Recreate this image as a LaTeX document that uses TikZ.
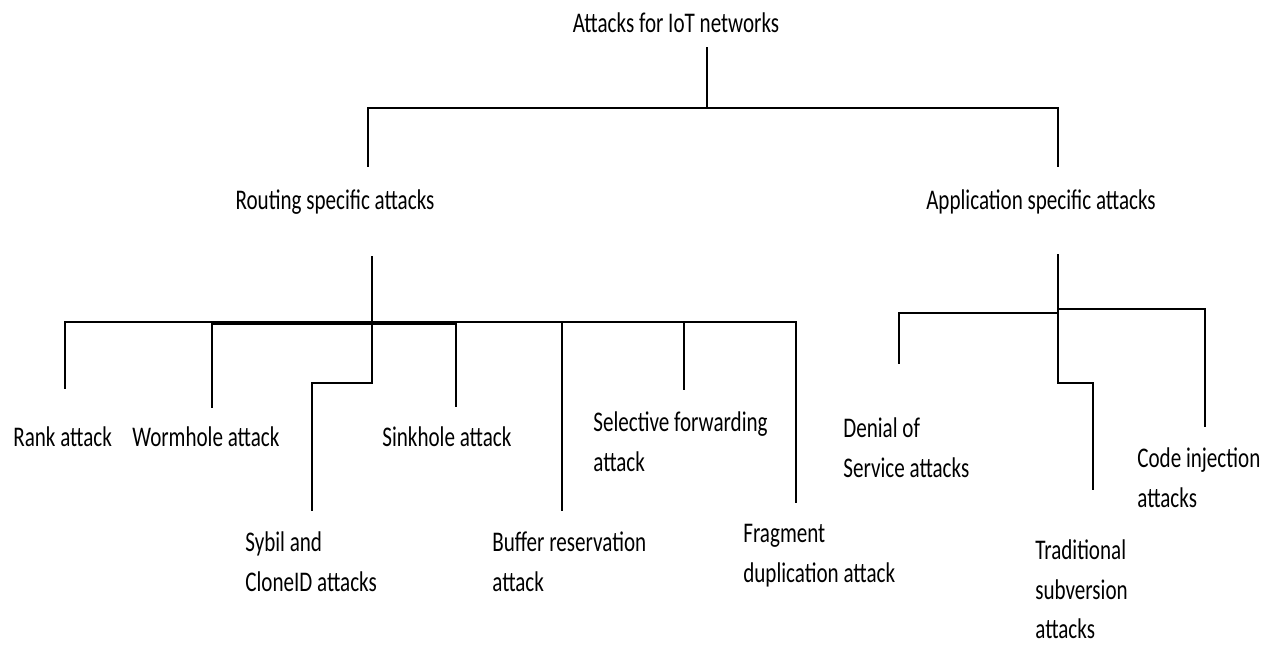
\documentclass[tikz,border=0pt]{standalone}
\usepackage{fontspec}
\setmainfont{Carlito}
\begin{document}
\begin{tikzpicture}[x=0.02cm,y=-0.02cm,
	lbl/.style={inner sep=0pt, yscale=1.35, align=left, font=\fontsize{12}{16.8}\selectfont},
	tree/.style={line width=1.1pt, line cap=rect}]
				\useasboundingbox (0,0) rectangle (1282,646);
				% labels
				\node[lbl, anchor=base] (iot) at (676,32) {Attacks for IoT networks};
				\node[lbl, anchor=base] (routing) at (335,209) {Routing specific attacks};
				\node[lbl, anchor=base] (appl) at (1041,209) {Application specific attacks};
				\node[lbl, anchor=base west] (rank) at (13,446) {Rank attack};
				\node[lbl, anchor=base west] (worm) at (132,446) {Wormhole attack};
				\node[lbl, anchor=base west] (sink) at (382,446) {Sinkhole attack};
				\node[lbl, anchor=north west] (sel) at (593,411) {Selective forwarding\\attack};
				\node[lbl, anchor=north west] (sybil) at (245,531) {Sybil and\\CloneID attacks};
				\node[lbl, anchor=north west] (buff) at (492,531) {Buffer reservation\\attack};
				\node[lbl, anchor=north west] (frag) at (743,524) {Fragment\\duplication attack};
				\node[lbl, anchor=north west] (dos) at (843,417) {Denial of\\Service attacks};
				\node[lbl, anchor=north west] (code) at (1137,447) {Code injection\\attacks};
				\node[lbl, anchor=north west] (trad) at (1035,539) {Traditional\\subversion\\attacks};

				% line ends
				\coordinate (iot-b) at (707,48);
				\coordinate (iot-j) at (707,108);
				\coordinate (routing-t) at (368,166);
				\coordinate (appl-t) at (1058,166);
				\coordinate (routing-b) at (372,257);
				\coordinate (routing-j) at (372,322);
				\coordinate (routing-k) at (372,383);
				\coordinate (rank-t) at (65,388);
				\coordinate (worm-t) at (212,407);
				\coordinate (sybil-t) at (312,510);
				\coordinate (sink-t) at (456,406);
				\coordinate (buff-t) at (562,510);
				\coordinate (sel-t) at (684,389);
				\coordinate (frag-t) at (796,502);
				\coordinate (appl-b) at (1058,255);
				\coordinate (appl-j) at (1058,313);
				\coordinate (appl-i) at (1058,309);
				\coordinate (appl-k) at (1058,383);
				\coordinate (dos-t) at (899,363);
				\coordinate (trad-t) at (1093,489);
				\coordinate (code-t) at (1205,426);

				\draw[tree] (iot-b)--(iot-j);
				\draw[tree] (routing-t) |- (iot-j) -| (appl-t);

				\draw[tree] (routing-b)--(routing-k) -| (sybil-t);
				\draw[tree] (rank-t) |- (routing-j) -| (frag-t);
				\foreach \c in {worm-t,sink-t,buff-t,sel-t}
					\draw[tree] (\c)--(\c |- routing-j);
				\draw[line width=2pt] ([yshift=-0.6pt]worm-t |- routing-j)--([yshift=-0.6pt]sink-t |- routing-j);

				\draw[tree] (appl-b)--(appl-k) -| (trad-t);
				\draw[tree] (dos-t) |- (appl-j);
				\draw[tree] (appl-i) -| (code-t);
				\end{tikzpicture}
\end{document}
